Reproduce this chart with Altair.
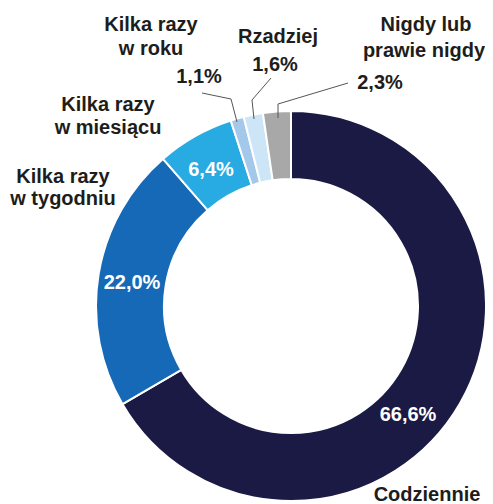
import altair as alt
import pandas as pd

# Segment data (clockwise from 12 o'clock)
categories = ["Codziennie", "Kilka razy w tygodniu", "Kilka razy w miesiącu",
              "Kilka razy w roku", "Rzadziej", "Nigdy lub prawie nigdy"]
values = [66.6, 22.0, 6.4, 1.1, 1.6, 2.3]
colors = ["#1b1a44", "#1669b6", "#28aae2", "#a4c8ea", "#cce6f8", "#a8a8a8"]

# Donut centre (layout, in the page-pixel scale used by all layers)
center_x = [291]
center_y = [306]

# Percent labels inside the ring
inner_text = ["66,6%", "22,0%", "6,4%"]
inner_x = [408, 132, 211]
inner_y = [421, 289, 176]

# Outside category / percent labels
outer_text = ["Kilka razy", "w roku", "1,1%", "Rzadziej", "1,6%",
              "Nigdy lub", "prawie nigdy", "2,3%",
              "Kilka razy", "w miesiącu", "Kilka razy", "w tygodniu", "Codziennie"]
outer_x = [151, 151, 199, 278, 275, 426, 424, 380, 108, 108, 63, 63, 427]
outer_y = [30.5, 55, 83, 43, 70.5, 30.5, 57, 89, 110.5, 133.5, 183, 205, 501]
outer_size = [20, 20, 20, 20, 20, 20, 20, 20, 20, 20, 20, 20, 20]

# Leader lines
leader_id = [1, 1, 1, 2, 2, 2, 3, 3, 3]
leader_x = [202, 231, 237, 271, 252, 254, 348, 278, 278]
leader_y = [93, 99, 122, 78, 100, 119, 83, 104, 118]
leader_ord = [0, 1, 2, 0, 1, 2, 0, 1, 2]

FONT = "Liberation Sans"

xs = alt.Scale(domain=[8, 485], nice=False, zero=False)
ys = alt.Scale(domain=[8, 504], nice=False, zero=False, reverse=True)

arc_df = pd.DataFrame({
    "cat": categories, "value": values, "ord": list(range(len(values))),
    "cx": center_x * len(values), "cy": center_y * len(values),
})

arcs = alt.Chart(arc_df).mark_arc(
    innerRadius=127, outerRadius=195, stroke="white", strokeWidth=2
).encode(
    theta=alt.Theta("value:Q", stack=True),
    order=alt.Order("ord:Q"),
    color=alt.Color("cat:N", scale=alt.Scale(domain=categories, range=colors), legend=None),
    x=alt.X("cx:Q", scale=xs, axis=None),
    y=alt.Y("cy:Q", scale=ys, axis=None),
)

in_df = pd.DataFrame({"t": inner_text, "x": inner_x, "y": inner_y})
in_labels = alt.Chart(in_df).mark_text(
    font=FONT, fontWeight="bold", fontSize=20, color="white",
    align="center", baseline="alphabetic"
).encode(
    x=alt.X("x:Q", scale=xs, axis=None),
    y=alt.Y("y:Q", scale=ys, axis=None),
    text="t:N",
)

out_df = pd.DataFrame({"t": outer_text, "x": outer_x, "y": outer_y, "s": outer_size})
out_labels = alt.Chart(out_df).mark_text(
    font=FONT, fontWeight="bold", color="#1d1d1b",
    align="center", baseline="alphabetic"
).encode(
    x=alt.X("x:Q", scale=xs, axis=None),
    y=alt.Y("y:Q", scale=ys, axis=None),
    size=alt.Size("s:Q", scale=None, legend=None),
    text="t:N",
)

ld_df = pd.DataFrame({"id": leader_id, "x": leader_x, "y": leader_y, "o": leader_ord})
leaders = alt.Chart(ld_df).mark_line(color="#555555", strokeWidth=1).encode(
    x=alt.X("x:Q", scale=xs, axis=None),
    y=alt.Y("y:Q", scale=ys, axis=None),
    detail="id:N",
    order="o:Q",
)

chart = alt.layer(arcs, leaders, in_labels, out_labels).properties(
    width=477, height=496,
    autosize=alt.AutoSizeParams(type="none"),
    padding=0,
).configure_view(stroke=None)

chart.save("out.html", embed_options={"renderer": "svg", "actions": False})
